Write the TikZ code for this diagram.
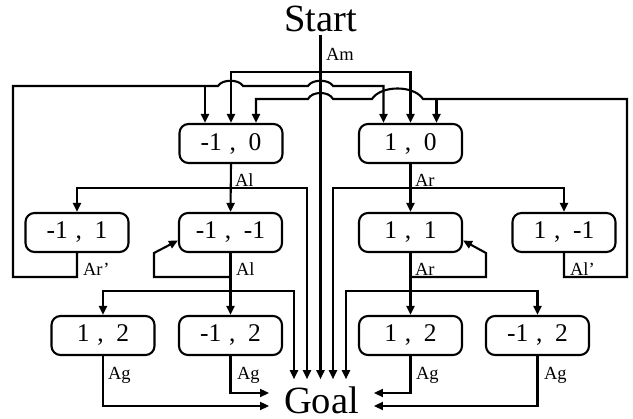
\documentclass[tikz,border=0pt]{standalone}
\usepackage{fontspec}
\setmainfont{Liberation Serif}
\usetikzlibrary{arrows.meta}
\newcommand{\pairtxt}[2]{#1\hspace{.3em},\hspace{.5em}#2}
\newcommand{\negpairtxt}[2]{#1\hspace{.3em},\hspace{.5em}#2\hspace{11pt}}
\begin{document}
\begin{tikzpicture}[x=1pt,y=-1pt,
  line width=2.1pt,
  state/.style={draw, rounded corners=9pt, minimum width=103pt, minimum height=39pt, inner sep=0pt, font=\fontsize{25.5}{25.5}\selectfont},
  big/.style={font=\fontsize{38.5}{38.5}\selectfont},
  lab/.style={font=\fontsize{18.5}{18.5}\selectfont, anchor=base west, inner sep=0pt},
  arr/.style={-{Triangle[length=9pt,width=8pt]}},
]
\useasboundingbox (0,0) rectangle (633,419);
% level helpers
\coordinate (L72) at (0,72);
\coordinate (L86) at (0,86);
\coordinate (L99) at (0,99);
\coordinate (L188) at (0,188);
\coordinate (L277) at (0,277);
\coordinate (L291) at (0,291);
\coordinate (L393) at (0,393);
\coordinate (L406) at (0,406);
\coordinate (x294) at (294,0);
\coordinate (x307) at (307,0);
\coordinate (x333) at (333,0);
\coordinate (x346) at (346,0);

\node[big, anchor=base, inner sep=2pt] (start) at (320.5,32) {Start};
\node[big, anchor=base, inner xsep=14pt, inner ysep=7pt] (goal) at (321.5,414) {Goal};

\node[state] (b10m) at (231,143.5) {\negpairtxt{-1}{0}};
\node[state] (b10p) at (410.5,143.5) {\pairtxt{1}{0}};
\node[state] (b11m) at (77,232.5) {\negpairtxt{-1}{1}};
\node[state] (b1m1m) at (230.5,232.5) {\negpairtxt{-1}{-1}};
\node[state] (b11p) at (410.5,232.5) {\pairtxt{1}{1}};
\node[state] (b1pm1) at (564,232.5) {\pairtxt{1}{-1}};
\node[state] (c1) at (103,335.5) {\pairtxt{1}{2}};
\node[state] (c2) at (230.5,335.5) {\negpairtxt{-1}{2}};
\node[state] (c3) at (410.5,335.5) {\pairtxt{1}{2}};
\node[state] (c4) at (537.5,335.5) {\negpairtxt{-1}{2}};

% Start -> Goal and Am
\draw[arr] (start.south) -- (start.south |- goal.north);
\draw[arr] (start.south |- L72) -| (b10m.north);
\draw[arr] (start.south |- L72) -| (b10p.north);
\node[lab] (am) at (325,61) {Am};

% Ar' loop from (-1,1)
\draw[arr] (b11m.south) -- (b11m.south |- L277) -- (13,277) -- (13,86) -- (218,86)
  .. controls (222,79) and (239,79) .. (243,86) -- (308,86)
  .. controls (312,79) and (329,79) .. (333,86) -- ([xshift=-27pt]b10p.north |- L86)
  -- ([xshift=-27pt]b10p.north);
\draw[arr] ([xshift=-26pt]b10m.north |- L86) -- ([xshift=-26pt]b10m.north);

% Al' loop from (1,-1)
\draw[arr] (b1pm1.south) -- (b1pm1.south |- L277) -- (627,277) -- (627,99) -- (423,99)
  .. controls (414,85) and (381,85) .. (372,99) -- (333,99)
  .. controls (329,91) and (312,91) .. (308,99) -- ([xshift=25pt]b10m.north |- L99)
  -- ([xshift=25pt]b10m.north);
\draw[arr] ([xshift=26pt]b10p.north |- L99) -- ([xshift=26pt]b10p.north);

% Al from (-1,0)
\draw[arr] (b10m.south) -- (b1m1m.north);
\draw[arr] (b10m.south |- L188) -| (b11m.north);
\draw[arr] (b10m.south |- L188) -| (x307 |- goal.north);
\node[lab] (al1) at (234,187) {Al};

% from (-1,-1)
\draw[arr] (b1m1m.south) -- (c2.north);
\draw[arr] (b1m1m.south |- L277) -- (154,277) -- (154,253) -- ([yshift=-8pt]b1m1m.west);
\draw[arr] (b1m1m.south |- L291) -| (c1.north);
\draw[arr] (b1m1m.south |- L291) -| (x294 |- goal.north);
\node[lab] (al2) at (235,276) {Al};
\node[lab] (arp) at (82,276) {Ar'};

% Ar from (1,0)
\draw[arr] (b10p.south) -- (b11p.north);
\draw[arr] (b10p.south |- L188) -| (x333 |- goal.north);
\draw[arr] (b10p.south |- L188) -| (b1pm1.north);
\node[lab] (ar1) at (414,187) {Ar};

% from (1,1)
\draw[arr] (b11p.south) -- (c3.north);
\draw[arr] (b11p.south |- L277) -- (486,277) -- (486,253) -- ([yshift=-8pt]b11p.east);
\draw[arr] (b11p.south |- L291) -| (x346 |- goal.north);
\draw[arr] (b11p.south |- L291) -| (c4.north);
\node[lab] (ar2) at (414,276) {Ar};
\node[lab] (alp) at (569,276) {Al'};

% Ag to Goal
\draw[arr] (c1.south) |- (goal.west |- L406);
\draw[arr] (c2.south) |- (goal.west |- L393);
\draw[arr] (c3.south) |- (goal.east |- L393);
\draw[arr] (c4.south) |- (goal.east |- L406);
\node[lab] (ag1) at (107,380) {Ag};
\node[lab] (ag2) at (236,380) {Ag};
\node[lab] (ag3) at (415,380) {Ag};
\node[lab] (ag4) at (543,380) {Ag};
\end{tikzpicture}
\end{document}
